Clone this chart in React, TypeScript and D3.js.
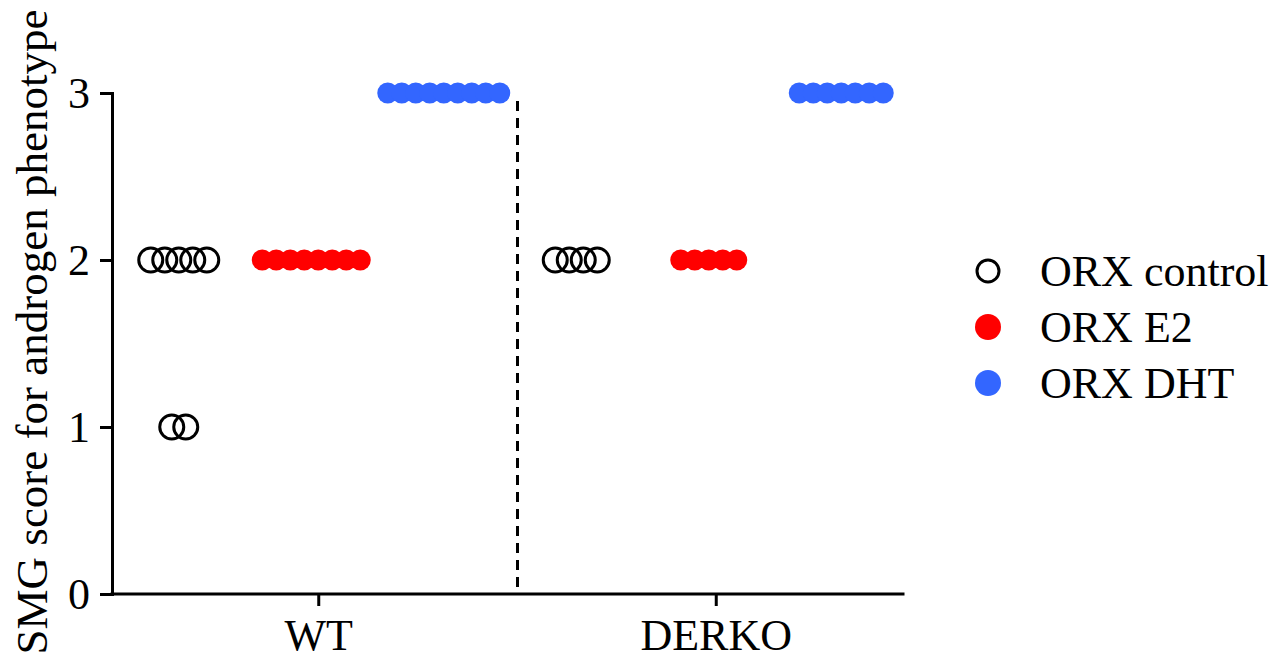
import { useEffect, useRef } from "react"
import * as d3 from "d3"

// groups on the x axis and treatments inside each group
const groups = ["WT", "DERKO"]
const treatments = ["ORX control", "ORX E2", "ORX DHT"]

// SMG scores, one entry per animal
const wtControl = [2, 2, 2, 2, 2, 1, 1]
const wtE2 = [2, 2, 2, 2, 2, 2, 2, 2]
const wtDHT = [3, 3, 3, 3, 3, 3, 3, 3, 3]
const derkoControl = [2, 2, 2, 2]
const derkoE2 = [2, 2, 2, 2, 2]
const derkoDHT = [3, 3, 3, 3, 3, 3, 3]

const yTicks = [0, 1, 2, 3]
const yTitle = "SMG score for androgen phenotype"

const series = [
  { group: "WT", treatment: "ORX control", values: wtControl },
  { group: "WT", treatment: "ORX E2", values: wtE2 },
  { group: "WT", treatment: "ORX DHT", values: wtDHT },
  { group: "DERKO", treatment: "ORX control", values: derkoControl },
  { group: "DERKO", treatment: "ORX E2", values: derkoE2 },
  { group: "DERKO", treatment: "ORX DHT", values: derkoDHT },
]

const FONT = "Liberation Serif, Times New Roman, serif"

export default function App() {
  const svgRef = useRef<SVGSVGElement>(null)

  useEffect(() => {
    if (!svgRef.current) return
    const svg = d3.select(svgRef.current)
    svg.selectAll("*").remove()

    const width = 1271
    const height = 654

    svg.attr("width", width).attr("height", height)

    const x = d3.scaleBand<string>().domain(groups).range([120, 915]).padding(0)
    const inner = d3.scalePoint<string>().domain(treatments).range([-140, 125])
    const y = d3.scaleLinear().domain([0, 3]).range([594, 93])

    const color = d3
      .scaleOrdinal<string, string>()
      .domain(treatments)
      .range(["#000000", "#ff0000", "#3366ff"])

    const center = (g: string) => (x(g) ?? 0) + x.bandwidth() / 2

    // y axis
    const yAxis = svg
      .append("g")
      .attr("transform", "translate(112,0)")
      .call(d3.axisLeft(y).tickValues(yTicks).tickFormat(d3.format("d")).tickSize(12).tickSizeOuter(0).tickPadding(10))
    yAxis.select(".domain").attr("stroke-width", 3).attr("stroke-linecap", "square")
    yAxis.selectAll(".tick line").attr("stroke-width", 3)
    yAxis.selectAll(".tick text").attr("font-size", 44).attr("font-family", FONT).attr("fill", "#000")

    // x axis
    const xAxis = svg
      .append("g")
      .attr("transform", "translate(0,594)")
      .call(d3.axisBottom(x).tickSize(12).tickSizeOuter(0).tickPadding(13))
    xAxis.select(".domain").attr("d", "M112,0H903").attr("stroke-width", 3).attr("stroke-linecap", "square")
    xAxis.selectAll(".tick line").attr("stroke-width", 3)
    xAxis.selectAll(".tick text").attr("font-size", 44).attr("font-family", FONT).attr("fill", "#000")

    // dashed separator between groups
    svg
      .append("line")
      .attr("x1", x("DERKO") ?? 0)
      .attr("x2", x("DERKO") ?? 0)
      .attr("y1", y(3) + 8)
      .attr("y2", y(0))
      .attr("stroke", "#000")
      .attr("stroke-width", 3)
      .attr("stroke-dasharray", "10,7")

    // y title
    svg
      .append("text")
      .attr("transform", "translate(47,332) rotate(-90)")
      .attr("text-anchor", "middle")
      .attr("font-size", 45)
      .attr("font-family", FONT)
      .attr("fill", "#000")
      .text(yTitle)

    // scatter dots, spread sideways when they share a score
    const spacing = 14
    series.forEach((s) => {
      const cx = center(s.group) + (inner(s.treatment) ?? 0)
      const byValue = d3.groups(s.values, (v) => v)
      byValue.forEach(([v, arr]) => {
        const n = arr.length
        arr.forEach((_, i) => {
          const px = cx + (i - (n - 1) / 2) * spacing
          const c = svg.append("circle").attr("cx", px).attr("cy", y(v))
          if (s.treatment === "ORX control") {
            c.attr("r", 12).attr("fill", "none").attr("stroke", "#000").attr("stroke-width", 3)
          } else {
            c.attr("r", 10.5).attr("fill", color(s.treatment))
          }
        })
      })
    })

    // legend
    const legend = svg.append("g").attr("transform", "translate(988,271)")
    treatments.forEach((t, i) => {
      const row = legend.append("g").attr("transform", `translate(0,${i * 56})`)
      if (t === "ORX control") {
        row.append("circle").attr("r", 11).attr("fill", "none").attr("stroke", "#000").attr("stroke-width", 3)
      } else {
        row.append("circle").attr("r", 13).attr("fill", color(t))
      }
      row
        .append("text")
        .attr("x", 52)
        .attr("y", 15)
        .attr("font-size", 44)
        .attr("font-family", FONT)
        .attr("fill", "#000")
        .text(t)
    })
  }, [])

  return (
    <div style={{ position: "absolute", left: 0, top: 0 }}>
      <svg ref={svgRef} style={{ display: "block" }} />
    </div>
  )
}
